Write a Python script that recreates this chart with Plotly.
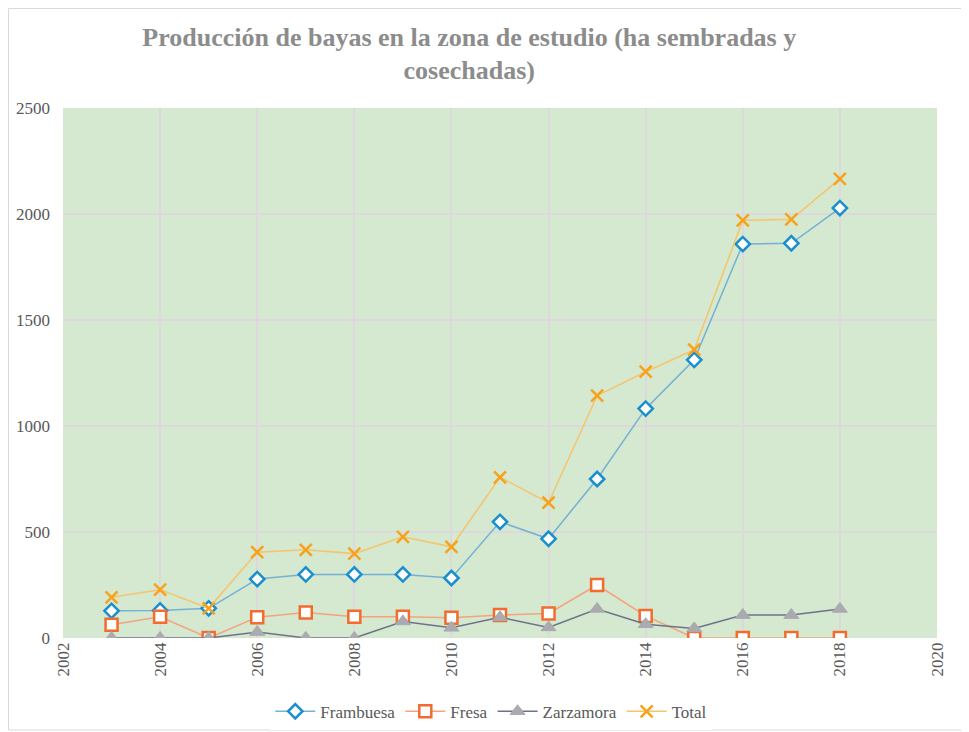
import plotly.graph_objects as go

years = [2003, 2004, 2005, 2006, 2007, 2008, 2009, 2010, 2011, 2012, 2013, 2014, 2015, 2016, 2017, 2018]
frambuesa = [128, 130, 140, 278, 300, 300, 300, 283, 548, 468, 750, 1082, 1312, 1858, 1862, 2028]
fresa = [63, 100, 0, 98, 120, 100, 100, 95, 108, 116, 250, 104, 0, 0, 0, 0]
zarzamora = [0, 0, 0, 28, 0, 0, 78, 48, 98, 50, 137, 65, 45, 108, 108, 137]
total = [192, 228, 140, 405, 416, 398, 477, 430, 758, 638, 1143, 1256, 1360, 1970, 1975, 2166]

title_text = "Producción de bayas en la zona de estudio (ha sembradas y<br>cosechadas)"
serif = "Liberation Serif"

W, H = 961, 724
ML, MR, MT, MB = 55, 32, 100, 94
PW, PH = W - ML - MR, H - MT - MB

fig = go.Figure()
fig.add_trace(go.Scatter(
    x=years, y=frambuesa, name="Frambuesa", mode="lines+markers",
    line=dict(color="#74b1d4", width=1.5),
    marker=dict(symbol="diamond", size=11, color="white",
                line=dict(color="#1a8fcf", width=2.5))))
fig.add_trace(go.Scatter(
    x=years, y=fresa, name="Fresa", mode="lines+markers",
    line=dict(color="#f3a47c", width=1.5),
    marker=dict(symbol="square", size=12, color="white",
                line=dict(color="#f26b2f", width=2.5))))
fig.add_trace(go.Scatter(
    x=years, y=zarzamora, name="Zarzamora", mode="lines+markers",
    line=dict(color="#6f7287", width=1.5),
    marker=dict(symbol="triangle-up", size=13, color="#a9abaf",
                line=dict(color="#a9abaf", width=1))))
fig.add_trace(go.Scatter(
    x=years, y=total, name="Total", mode="lines+markers",
    line=dict(color="#f6c46a", width=1.5),
    marker=dict(symbol="x-thin", size=12,
                line=dict(color="#f7a21b", width=2.5))))

fig.update_layout(
    width=W, height=H,
    paper_bgcolor="white",
    plot_bgcolor="#d5e8d0",
    margin=dict(l=ML, r=MR, t=MT, b=MB, autoexpand=False),
    title=dict(text=title_text, x=0.48, xanchor="center", y=0.948, yanchor="top",
               font=dict(family=serif, size=26, color="#8c8c8c", weight="bold")),
    font=dict(family=serif, size=17, color="#595959"),
    showlegend=True,
    legend=dict(orientation="h", x=0.49, xanchor="center", yref="container",
                y=0.028, yanchor="middle", itemwidth=40,
                font=dict(family=serif, size=17, color="#595959"),
                traceorder="normal"),
    xaxis=dict(range=[2002, 2020], dtick=2, tick0=2002, tickangle=-90, automargin=False,
               showgrid=True, gridcolor="#dcd8dc", gridwidth=1.5,
               zeroline=False, showline=False, ticks="",
               tickfont=dict(family=serif, size=17, color="#595959")),
    yaxis=dict(range=[0, 2500], dtick=500, automargin=False,
               showgrid=True, gridcolor="#dcd8dc", gridwidth=1.5,
               zeroline=False, showline=False, ticks="", ticklabelstandoff=12,
               tickfont=dict(family=serif, size=17, color="#595959")),
    shapes=[dict(type="rect", xref="paper", yref="paper",
                 x0=(0.5 - ML) / PW, x1=(W - 2 - ML) / PW,
                 y0=-(MB - 2) / PH, y1=1 + (MT - 0.5) / PH,
                 line=dict(color="#d9d9d9", width=1), fillcolor="rgba(0,0,0,0)", layer="below")],
)

fig.write_html("out.html")
